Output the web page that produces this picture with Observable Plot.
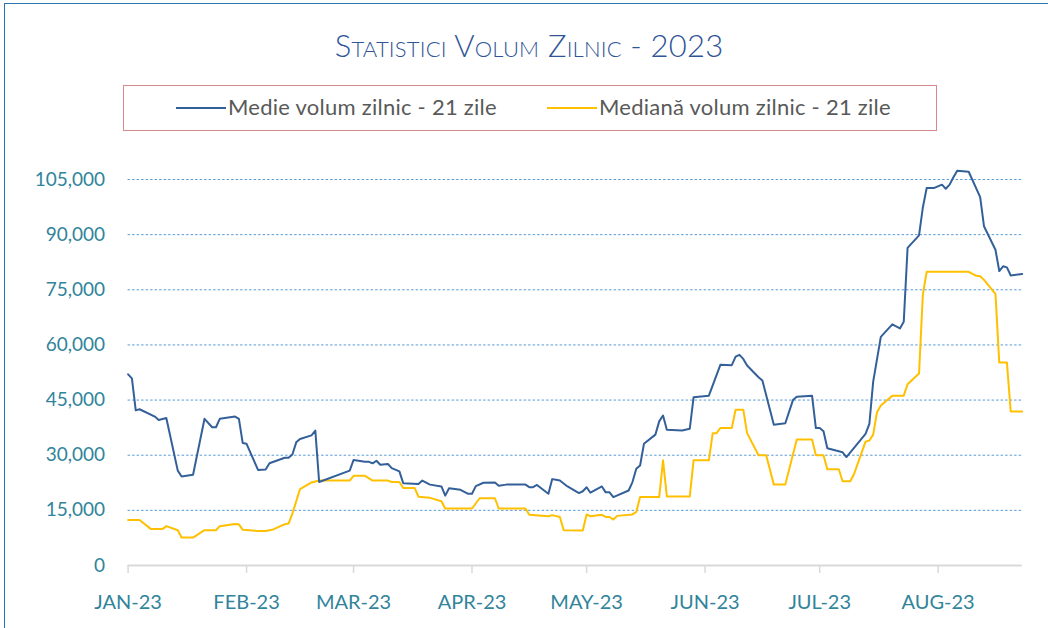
<!DOCTYPE html>
<html>
<head>
<meta charset="utf-8">
<script src="https://cdn.jsdelivr.net/npm/d3@7"></script>
<script src="https://cdn.jsdelivr.net/npm/@observablehq/plot@0.6"></script>
<style>
  html, body { margin: 0; padding: 0; background: #fff; }
  body { width: 1048px; height: 628px; position: relative; overflow: hidden; font-family: Lato, "Open Sans", sans-serif; }
  #frame { position: absolute; left: 4px; top: 3px; width: 1100px; height: 700px; border-left: 1.5px solid #2e75b6; border-top: 1.5px solid #2e75b6; }
  #title { position: absolute; left: 0; width: 1058px; top: 26px; text-align: center; font-size: 31px; font-variant: small-caps; color: #2f5597; font-family: Lato, sans-serif; font-weight: 300; letter-spacing: 0.2px; }
  #legend { position: absolute; left: 123px; top: 85px; width: 812px; height: 44px; border: 1.5px solid #d48a8a; }
  .item { position: absolute; top: 8px; font-size: 22px; color: #595959; line-height: 26px; white-space: nowrap; letter-spacing: 0.25px; }
  .sw { display: inline-block; width: 50px; height: 2px; vertical-align: middle; margin-right: 2px; position: relative; top: -1px; }
  #chart { position: absolute; left: 0; top: 140px; }
</style>
</head>
<body>
<div id="frame"></div>
<div id="title">Statistici Volum Zilnic - 2023</div>
<div id="legend"></div>
<div id="chart"></div>
<script>
const seriesNames = ["Medie volum zilnic - 21 zile", "Mediană volum zilnic - 21 zile"];
const seriesColors = ["#34609a", "#ffc000"];

const meanDates = ["2023-01-03","2023-01-04","2023-01-05","2023-01-06","2023-01-10","2023-01-11","2023-01-13","2023-01-16","2023-01-17","2023-01-20","2023-01-23","2023-01-25","2023-01-26","2023-01-27","2023-01-31","2023-02-01","2023-02-02","2023-02-03","2023-02-06","2023-02-08","2023-02-09","2023-02-13","2023-02-14","2023-02-15","2023-02-16","2023-02-17","2023-02-20","2023-02-21","2023-02-22","2023-03-02","2023-03-03","2023-03-06","2023-03-07","2023-03-08","2023-03-09","2023-03-10","2023-03-12","2023-03-13","2023-03-15","2023-03-16","2023-03-20","2023-03-21","2023-03-23","2023-03-26","2023-03-27","2023-03-28","2023-03-31","2023-04-02","2023-04-03","2023-04-04","2023-04-06","2023-04-09","2023-04-10","2023-04-12","2023-04-17","2023-04-18","2023-04-19","2023-04-20","2023-04-23","2023-04-24","2023-04-25","2023-04-26","2023-04-28","2023-05-01","2023-05-02","2023-05-03","2023-05-04","2023-05-07","2023-05-08","2023-05-09","2023-05-10","2023-05-14","2023-05-15","2023-05-16","2023-05-17","2023-05-18","2023-05-21","2023-05-22","2023-05-23","2023-05-24","2023-05-28","2023-05-30","2023-05-31","2023-06-04","2023-06-07","2023-06-10","2023-06-11","2023-06-12","2023-06-13","2023-06-14","2023-06-17","2023-06-18","2023-06-21","2023-06-24","2023-06-26","2023-06-27","2023-07-01","2023-07-02","2023-07-03","2023-07-04","2023-07-05","2023-07-09","2023-07-10","2023-07-15","2023-07-16","2023-07-17","2023-07-19","2023-07-22","2023-07-24","2023-07-25","2023-07-26","2023-07-29","2023-07-30","2023-07-31","2023-08-02","2023-08-04","2023-08-05","2023-08-06","2023-08-07","2023-08-08","2023-08-11","2023-08-14","2023-08-15","2023-08-18","2023-08-19","2023-08-20","2023-08-21","2023-08-22","2023-08-25"];
const meanValues = [52000,50900,42200,42500,40500,39600,40100,25800,24200,24700,39900,37600,37600,39900,40500,39900,33300,33100,26000,26100,27800,29300,29300,30200,33500,34400,35400,36700,22700,25800,28700,28200,28200,27800,28500,27400,27600,26500,25600,22400,22200,23100,22000,21500,19000,21000,20600,19500,19500,21600,22500,22600,21700,22000,22000,21300,21300,21900,19500,23500,23300,23100,21500,19700,20200,21300,19800,21500,19900,19900,18600,20400,22700,26300,27200,33100,35600,39200,40800,36900,36700,37200,45800,46200,54600,54500,56800,57300,56200,54400,51200,50300,38300,38700,45000,45900,46200,37400,37400,36500,31900,30800,29500,35800,38500,50000,62200,65600,64500,66300,86400,89800,97400,102700,102700,103600,102500,103600,105600,107400,107100,100200,92300,85900,80100,81400,81100,78900,79300];

const medianDates = ["2023-01-03","2023-01-06","2023-01-09","2023-01-12","2023-01-13","2023-01-16","2023-01-17","2023-01-20","2023-01-23","2023-01-26","2023-01-27","2023-01-31","2023-02-01","2023-02-02","2023-02-06","2023-02-08","2023-02-10","2023-02-12","2023-02-13","2023-02-14","2023-02-15","2023-02-17","2023-02-20","2023-02-22","2023-03-02","2023-03-03","2023-03-06","2023-03-08","2023-03-12","2023-03-13","2023-03-15","2023-03-16","2023-03-19","2023-03-20","2023-03-23","2023-03-26","2023-03-27","2023-04-03","2023-04-05","2023-04-09","2023-04-10","2023-04-17","2023-04-18","2023-04-23","2023-04-24","2023-04-26","2023-04-27","2023-05-02","2023-05-03","2023-05-04","2023-05-07","2023-05-08","2023-05-09","2023-05-10","2023-05-11","2023-05-15","2023-05-16","2023-05-17","2023-05-22","2023-05-23","2023-05-24","2023-05-30","2023-05-31","2023-06-04","2023-06-05","2023-06-06","2023-06-07","2023-06-10","2023-06-11","2023-06-13","2023-06-14","2023-06-17","2023-06-19","2023-06-21","2023-06-24","2023-06-27","2023-07-01","2023-07-02","2023-07-04","2023-07-05","2023-07-08","2023-07-09","2023-07-11","2023-07-12","2023-07-15","2023-07-16","2023-07-17","2023-07-18","2023-07-19","2023-07-22","2023-07-25","2023-07-26","2023-07-29","2023-07-30","2023-07-31","2023-08-11","2023-08-13","2023-08-14","2023-08-15","2023-08-18","2023-08-19","2023-08-21","2023-08-22","2023-08-25"];
const medianValues = [12400,12400,9900,9900,10700,9600,7600,7600,9600,9600,10700,11300,11200,9700,9400,9400,9800,10800,11200,11400,14100,20800,22600,23100,23100,24400,24400,23100,23100,22700,22700,21100,21100,18700,18400,17500,15500,15500,18300,18300,15500,15500,13800,13400,13700,13200,9600,9500,13900,13400,13800,13200,13200,12500,13500,13900,14600,18600,18600,28600,18800,18800,28600,28600,36000,36000,37400,37400,42400,42400,36000,30000,30000,22000,22000,34300,34300,30000,30000,26200,26200,22900,22900,24900,33700,34000,35600,41700,43500,46200,46200,49300,52200,73700,79900,79900,78800,78700,77700,73900,55200,55200,41900,41900];

const monthTicks = ["2023-01-03","2023-02-03","2023-03-03","2023-04-03","2023-05-03","2023-06-03","2023-07-03","2023-08-03"];
const monthLabels = ["JAN-23","FEB-23","MAR-23","APR-23","MAY-23","JUN-23","JUL-23","AUG-23"];
const yTicks = [0, 15000, 30000, 45000, 60000, 75000, 90000, 105000];
const xStart = "2023-01-03", xEnd = "2023-08-25";

// legend
const legend = document.getElementById("legend");
const legendPos = [52, 423];
seriesNames.forEach((name, i) => {
  const el = document.createElement("div");
  el.className = "item";
  el.style.left = legendPos[i] + "px";
  el.innerHTML = `<span class="sw" style="background:${seriesColors[i]}"></span>${name}`;
  legend.appendChild(el);
});

const parse = d => new Date(d);
const meanData = meanDates.map((d, i) => ({date: parse(d), value: meanValues[i], s: seriesNames[0]}));
const medianData = medianDates.map((d, i) => ({date: parse(d), value: medianValues[i], s: seriesNames[1]}));
const tickDates = monthTicks.map(parse);
const labelByTime = new Map(tickDates.map((d, i) => [+d, monthLabels[i]]));

const chart = Plot.plot({
  width: 1048,
  height: 480,
  marginLeft: 127.6,
  marginRight: 26.3,
  marginTop: 39,
  marginBottom: 55,
  style: {fontFamily: "Lato, sans-serif", background: "transparent", overflow: "visible"},
  x: {type: "utc", domain: [parse(xStart), parse(xEnd)]},
  y: {domain: [0, 105000]},
  marks: [
    Plot.gridY(yTicks.filter(d => d > 0), {stroke: "#5b9bd5", strokeOpacity: 1, strokeWidth: 1, strokeDasharray: "2.5,2"}),
    Plot.ruleY([0], {stroke: "#d9d9d9", strokeWidth: 2}),
    Plot.axisX(tickDates, {tickSize: 8, tickPadding: 21, stroke: "#d9d9d9", strokeWidth: 1.5, fill: "#31849b", fontSize: 20, tickFormat: d => labelByTime.get(+d), label: null}),
    Plot.axisY(yTicks, {tickSize: 0, tickPadding: 23, fill: "#31849b", fontSize: 19, tickFormat: d3.format(","), label: null}),
    Plot.line(medianData, {x: "date", y: "value", stroke: seriesColors[1], strokeWidth: 2}),
    Plot.line(meanData, {x: "date", y: "value", stroke: seriesColors[0], strokeWidth: 2})
  ]
});
document.getElementById("chart").appendChild(chart);
</script>
</body>
</html>
